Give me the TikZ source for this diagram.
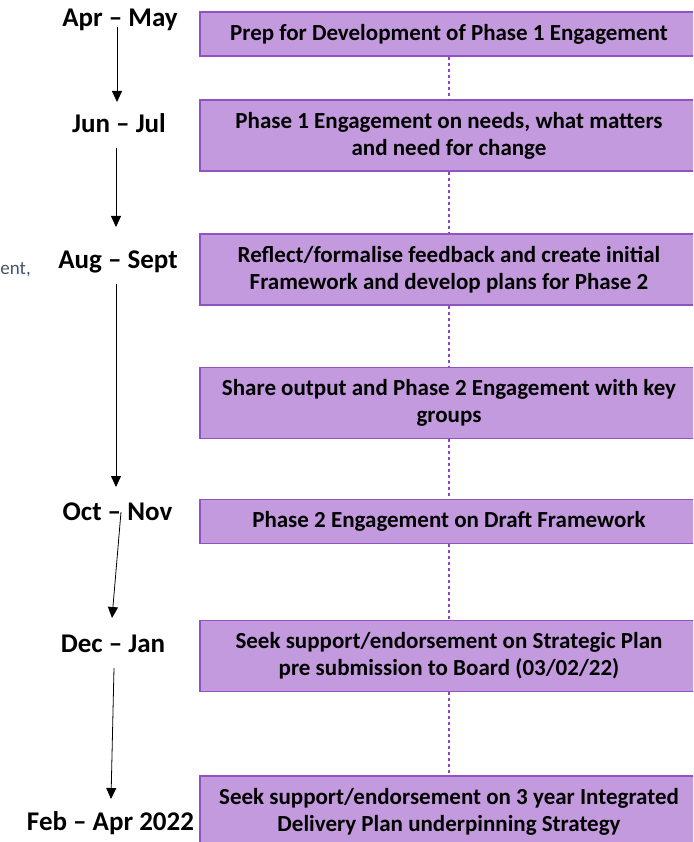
\documentclass[tikz,border=0pt]{standalone}
\usepackage{fontspec}
\setmainfont{Carlito}
\usetikzlibrary{arrows.meta,calc}
\definecolor{stagefill}{RGB}{196,154,222}
\definecolor{stageline}{RGB}{145,82,196}
\definecolor{linkline}{RGB}{140,70,195}
\definecolor{sidetext}{RGB}{68,84,106}
\begin{document}
\begin{tikzpicture}  % ------ calendrier des etapes  --------------
      [x=1pt,y=-1pt,
       stage/.style={draw=stageline,line width=1.4pt,fill=stagefill,
         minimum width=498pt,inner sep=0pt,align=center,
         font=\fontsize{23}{27}\selectfont\bfseries},
       period/.style={anchor=base,inner sep=0pt,
         font=\fontsize{27}{30}\selectfont\bfseries},
       link/.style={draw=linkline,line width=1.2pt,dash pattern=on 3pt off 3pt},
       >={Triangle[width=10pt,length=11pt]}]
    \clip (0,0) rectangle (693,842);

    % periodes
    \node[period] (apr) at (120,27)   {Apr -- May};
    \node[period] (jun) at (119,133)  {Jun -- Jul};
    \node[period] (aug) at (118,268)  {Aug -- Sept};
    \node[period] (oct) at (117.5,520) {Oct -- Nov};
    \node[period] (dec) at (113,652)  {Dec -- Jan};
    \node[period] (feb) at (110.5,830) {Feb -- Apr 2022};

    % etapes
    \node[stage,minimum height=44pt] (prep) at (449,34)
        {Prep for Development of Phase 1 Engagement};
    \node[stage,minimum height=71pt] (eng1) at (449,135.5)
        {Phase 1 Engagement on needs, what matters\\and need for change};
    \node[stage,minimum height=71pt] (refl) at (449,269.5)
        {Reflect/formalise feedback and create initial\\Framework and develop plans for Phase 2};
    \node[stage,minimum height=71pt] (share) at (449,403)
        {Share output and Phase 2 Engagement with key\\groups};
    \node[stage,minimum height=44pt] (eng2) at (449,521.5)
        {Phase 2 Engagement on Draft Framework};
    \node[stage,minimum height=71pt] (seek) at (449,656)
        {Seek support/endorsement on Strategic Plan\\pre submission to Board (03/02/22)};
    \node[stage,minimum height=71pt] (deliv) at (449,811.5)
        {Seek support/endorsement on 3 year Integrated\\Delivery Plan underpinning Strategy};

    \foreach \a/\b in {prep/eng1,eng1/refl,refl/share,share/eng2,eng2/seek,seek/deliv}
      \draw[link] (\a.south) -- (\b.north);

    % fleches
    \draw[->,thick] ($(apr.base)+(-3,0)$)   -- ($(jun.base)+(-2,-31)$);
    \draw[->,thick] ($(jun.base)+(-3,15)$)  -- ($(aug.base)+(-2,-41)$);
    \draw[->,thick] ($(aug.base)+(-2,16)$)  -- ($(oct.base)+(-1.5,-33)$);
    \draw[->,thick] ($(oct.base)+(3.5,-8)$) -- ($(dec.base)+(-1,-34)$);
    \draw[->,thick] ($(dec.base)+(1,16)$)   -- ($(feb.base)+(0.5,-31)$);

\begin{footnotesize}
    \node[anchor=base east,inner sep=0pt,text=sidetext,
          font=\fontsize{19}{22}\selectfont] (side) at (31,274) {ent,};
\end{footnotesize}
\end{tikzpicture}
\end{document}
